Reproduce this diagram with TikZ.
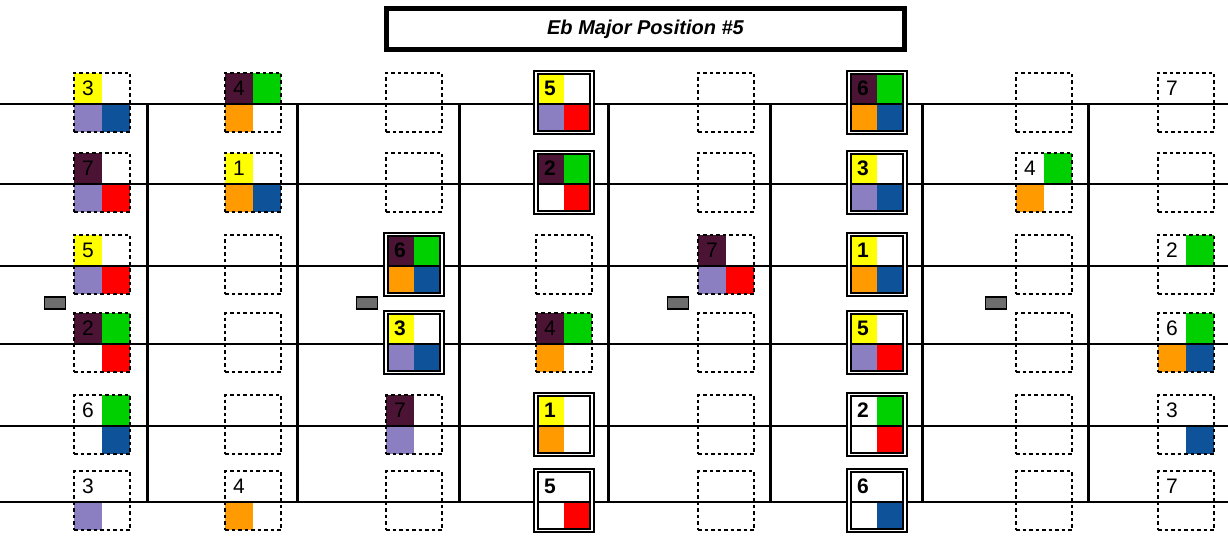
\documentclass[tikz,border=0pt]{standalone}
\usepackage{fontspec}
\setmainfont{Liberation Sans}
\usetikzlibrary{positioning}
\pgfdeclarelayer{fills}
\pgfsetlayers{fills,main}
\definecolor{cyel}{HTML}{FFFF00}
\definecolor{cmar}{HTML}{4B1434}
\definecolor{cgrn}{HTML}{00D000}
\definecolor{clav}{HTML}{8B7EC1}
\definecolor{cblu}{HTML}{0E5299}
\definecolor{cred}{HTML}{FF0000}
\definecolor{corg}{HTML}{FF9A00}
\definecolor{cgry}{HTML}{6E6E6E}
\colorlet{w}{white}
\tikzset{strg/.style={line width=2pt},fretbar/.style={line width=3pt},plain-box/.style={draw,line width=2.2pt,dash pattern=on 3.5pt off 3pt,minimum width=56pt,minimum height=59pt,inner sep=0pt},root-box/.style={draw,line width=1.8pt,double=white,double distance=1.6pt,minimum width=56pt,minimum height=60pt,inner sep=0pt},plain-num/.style={inner sep=0pt,font=\fontsize{21}{21}\selectfont},root-num/.style={inner sep=0pt,font=\fontsize{21}{21}\selectfont\bfseries},marker/.style={draw,fill=cgry,line width=1.6pt,minimum width=21pt,minimum height=12pt,inner sep=0pt},titlebox/.style={draw,line width=5pt,minimum width=518pt,minimum height=41pt,font=\fontsize{20}{20}\selectfont\bfseries\itshape}}

\begin{document}
\begin{tikzpicture}[x=1pt,y=-1pt]
\useasboundingbox (0,0) rectangle (1228,537);
\node[titlebox] (title) at (645.5,29) {Eb Major Position \#5};
% strings and frets
\foreach \y [count=\i] in {104,184,266,344,426,502}{
  \coordinate (s\i) at (0,\y);
  \draw[strg] (s\i) -- (1228,\y);
}
\foreach \x [count=\i] in {102,253,414,564,726,877,1044,1186}
  \coordinate (c\i) at (\x,0);
\foreach \x in {147,297,459,608,770,922,1088}
  \draw[fretbar] (\x,104) -- (\x,502);
\foreach \x [count=\i] in {55,367,678,996}
  \node[marker] (m\i) at (\x,303) {};
% note boxes: column/string/kind/degree/top-left/top-right/bottom-left/bottom-right
\foreach \c/\s/\k/\n/\p/\q/\r/\t in {
  1/1/plain/3/cyel/w/clav/cblu, 1/2/plain/7/cmar/w/clav/cred, 1/3/plain/5/cyel/w/clav/cred,
  1/4/plain/2/cmar/cgrn/w/cred, 1/5/plain/6/w/cgrn/w/cblu, 1/6/plain/3/w/w/clav/w,
  2/1/plain/4/cmar/cgrn/corg/w, 2/2/plain/1/cyel/w/corg/cblu, 2/3/plain//w/w/w/w,
  2/4/plain//w/w/w/w, 2/5/plain//w/w/w/w, 2/6/plain/4/w/w/corg/w,
  3/1/plain//w/w/w/w, 3/2/plain//w/w/w/w, 3/3/root/6/cmar/cgrn/corg/cblu,
  3/4/root/3/cyel/w/clav/cblu, 3/5/plain/7/cmar/w/clav/w, 3/6/plain//w/w/w/w,
  4/1/root/5/cyel/w/clav/cred, 4/2/root/2/cmar/cgrn/w/cred, 4/3/plain//w/w/w/w,
  4/4/plain/4/cmar/cgrn/corg/w, 4/5/root/1/cyel/w/corg/w, 4/6/root/5/w/w/w/cred,
  5/1/plain//w/w/w/w, 5/2/plain//w/w/w/w, 5/3/plain/7/cmar/w/clav/cred,
  5/4/plain//w/w/w/w, 5/5/plain//w/w/w/w, 5/6/plain//w/w/w/w,
  6/1/root/6/cmar/cgrn/corg/cblu, 6/2/root/3/cyel/w/clav/cblu, 6/3/root/1/cyel/w/corg/cblu,
  6/4/root/5/cyel/w/clav/cred, 6/5/root/2/w/cgrn/w/cred, 6/6/root/6/w/w/w/cblu,
  7/1/plain//w/w/w/w, 7/2/plain/4/w/cgrn/corg/w, 7/3/plain//w/w/w/w,
  7/4/plain//w/w/w/w, 7/5/plain//w/w/w/w, 7/6/plain//w/w/w/w,
  8/1/plain/7/w/w/w/w, 8/2/plain//w/w/w/w, 8/3/plain/2/w/cgrn/w/w,
  8/4/plain/6/w/cgrn/corg/cblu, 8/5/plain/3/w/w/w/cblu, 8/6/plain/7/w/w/w/w}{
  \coordinate (o) at (c\c |- s\s);
  \begin{pgfonlayer}{fills}
    \fill[\p] ([shift={(-28,-31)}]o) rectangle (o);
    \fill[\q] ([shift={(28,-31)}]o) rectangle (o);
    \fill[\r] ([shift={(-28,28)}]o) rectangle (o);
    \fill[\t] ([shift={(28,28)}]o) rectangle (o);
  \end{pgfonlayer}
  \node[\k-box] (b-\c-\s) at ([yshift=1.5pt]o) {};
  \node[\k-num] (n-\c-\s) at ([shift={(-14,-16)}]o) {\n};
}
\end{tikzpicture}
\end{document}
